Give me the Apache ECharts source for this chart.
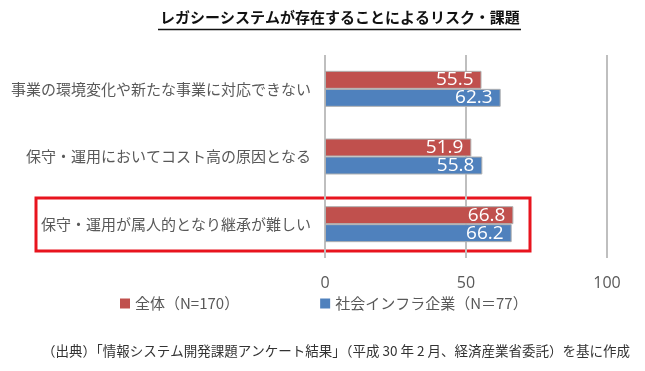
<!DOCTYPE html>
<html><head><meta charset="utf-8">
<script src="https://cdn.jsdelivr.net/npm/echarts@6/dist/echarts.min.js"></script>
<style>html,body{margin:0;padding:0;background:#fff}#c{width:645px;height:371px}</style>
</head><body><div id="c"></div>
<script>
const categories = ['事業の環境変化や新たな事業に対応できない','保守・運用においてコスト高の原因となる','保守・運用が属人的となり継承が難しい'];
const seriesNames = ['全体（N=170）','社会インフラ企業（N＝77）'];
const allValues = [55.5, 51.9, 66.8];
const infraValues = [62.3, 55.8, 66.2];
const xTicks = [0, 50, 100];
const FONT = '"Noto Sans CJK JP", "Noto Sans", sans-serif';
const chart = echarts.init(document.getElementById('c'));
const labelCfg = {show:true, position:'insideRight', color:'#fff', fontSize:19, fontFamily:'"Open Sans", "Noto Sans", sans-serif', distance:8, formatter:p=>p.value.toFixed(1)};
chart.setOption({
  animation:false,
  title:{text:'レガシーシステムが存在することによるリスク・課題', left:160, top:10, padding:0, textStyle:{fontSize:15, fontWeight:'bold', color:'#111', fontFamily:FONT}},
  grid:{left:325, right:38, top:55, bottom:113},
  legend:{data:seriesNames, top:291, left:115, itemGap:81, itemWidth:10, itemHeight:10, icon:'rect', itemStyle:{borderWidth:0}, textStyle:{fontSize:15, color:'#595959', fontFamily:FONT}},
  xAxis:{type:'value', min:xTicks[0], max:xTicks[xTicks.length-1], interval:50,
    axisLine:{show:false}, axisTick:{show:false},
    axisLabel:{fontSize:16, color:'#595959', margin:17, fontFamily:'"Open Sans", sans-serif'},
    splitLine:{lineStyle:{color:'#bfbfbf', width:2}}},
  yAxis:{type:'category', data:categories, inverse:true,
    axisLine:{show:false}, axisTick:{show:false},
    axisLabel:{fontSize:15, color:'#595959', margin:14, fontFamily:FONT}},
  series:[
    {name:seriesNames[0], type:'bar', data:allValues, barWidth:18, barGap:'0%', itemStyle:{color:'#C0504D', borderColor:'#b0b0b0', borderWidth:1}, label:labelCfg},
    {name:seriesNames[1], type:'bar', data:infraValues, barWidth:18, barGap:'0%', itemStyle:{color:'#4F81BD', borderColor:'#b0b0b0', borderWidth:1}, label:labelCfg}
  ],
  graphic:[
    {type:'line', shape:{x1:158, y1:29.5, x2:521, y2:29.5}, style:{stroke:'#111', lineWidth:1.5}},
    {type:'rect', shape:{x:36, y:198, width:494, height:53}, style:{fill:'none', stroke:'#e8141e', lineWidth:3}},
    {type:'text', left:42, top:344, style:{text:'（出典）「情報システム開発課題アンケート結果」（平成 30 年 2 月、経済産業省委託）を基に作成', fill:'#333', font:'13.5px '+FONT}}
  ]
});
</script></body></html>
